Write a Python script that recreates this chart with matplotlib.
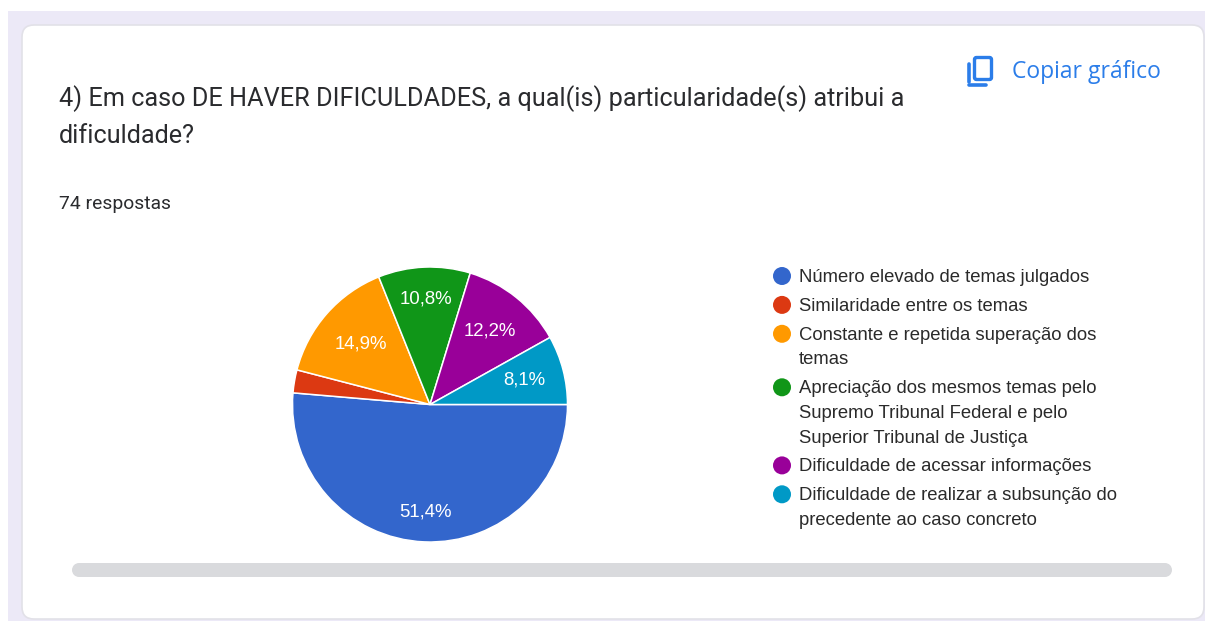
import matplotlib
matplotlib.use("Agg")
import matplotlib.pyplot as plt
from matplotlib.patches import FancyBboxPatch, Rectangle, Circle

W, H = 1205, 621

title_lines = ["4) Em caso DE HAVER DIFICULDADES, a qual(is) particularidade(s) atribui a", "dificuldade?"]
responses = "74 respostas"
copy_label = "Copiar gráfico"
counts = [38, 2, 11, 8, 9, 6]
colors = ["#3366cc", "#dc3912", "#ff9900", "#109618", "#990099", "#0099c6"]
label_dist = [0.78, 0, 0.67, 0.77, 0.69, 0.71]
legend_items = [
    ["Número elevado de temas julgados"],
    ["Similaridade entre os temas"],
    ["Constante e repetida superação dos", "temas"],
    ["Apreciação dos mesmos temas pelo", "Supremo Tribunal Federal e pelo", "Superior Tribunal de Justiça"],
    ["Dificuldade de acessar informações"],
    ["Dificuldade de realizar a subsunção do", "precedente ao caso concreto"],
]


def pct_text(p):
    if p < 5:
        return ""
    return f"{p:.1f}".replace(".", ",") + "%"


fig = plt.figure(figsize=(W / 100, H / 100), dpi=100, facecolor="white")
bg = fig.add_axes([0, 0, 1, 1])
bg.set_xlim(0, W)
bg.set_ylim(H, 0)
bg.axis("off")

# page and card
bg.add_patch(Rectangle((8, 11), W - 8, H - 11, fc="#ece9f7", ec="none"))
bg.add_patch(FancyBboxPatch((22, 25), 1182, 594, boxstyle="round,pad=0,rounding_size=12",
                            fc="white", ec="#e2e1e8", lw=1.2))

# scrollbar
bg.add_patch(Rectangle((79, 563), 1086, 14, fc="#d9dadd", ec="none"))
bg.add_patch(Circle((79, 570), 7, fc="#d9dadd", ec="none"))
bg.add_patch(Circle((1165, 570), 7, fc="#d9dadd", ec="none"))

# title
bg.text(59, 99, title_lines[0], family="Roboto", fontsize=18.15, color="#2a2b2e", va="center")
bg.text(59, 136, title_lines[1], family="Roboto", fontsize=18.15, color="#2a2b2e", va="center")
bg.text(59, 204, responses, family="Roboto", fontsize=13.9, color="#2a2b2e", va="center")

# copy button
blue = "#2b7de9"
bg.add_patch(FancyBboxPatch((974.5, 57.5), 17, 22, boxstyle="round,pad=0,rounding_size=2",
                            fc="white", ec=blue, lw=2.4))
bg.plot([969, 969], [64, 82], color=blue, lw=2.6, solid_capstyle="round")
bg.plot([969, 986], [84.5, 84.5], color=blue, lw=2.6, solid_capstyle="round")
bg.text(1012, 72, copy_label, family="Open Sans", fontsize=16.5, color=blue, va="center", weight="medium")

# pie
cx, cy, r = 430, 404.5, 137.5
pie_ax = fig.add_axes([(cx - r - 2) / W, 1 - (cy + r + 2) / H, (2 * r + 4) / W, (2 * r + 4) / H])
wedges, _, autotexts = pie_ax.pie(
    counts, colors=colors, startangle=0, counterclock=False, radius=r / (r + 2),
    autopct=pct_text, pctdistance=1.0,
    wedgeprops={"edgecolor": "white", "linewidth": 1.1},
    textprops={"family": "Liberation Sans", "fontsize": 13.45, "color": "white"},
)
pie_ax.set_xlim(-1, 1)
pie_ax.set_ylim(-1, 1)
for t, d in zip(autotexts, label_dist):
    x, y = t.get_position()
    t.set_position((x * d, y * d))

# legend
y = 276
for item, color in zip(legend_items, colors):
    bg.add_patch(Circle((782, y), 9, fc=color, ec="none"))
    for line in item:
        bg.text(799, y + 1.5, line, family="Liberation Sans", fontsize=13.3, color="#2a2a2a", va="center")
        y += 24.6
    y += 4.3

fig.savefig("out.png", dpi=100, facecolor="white")
